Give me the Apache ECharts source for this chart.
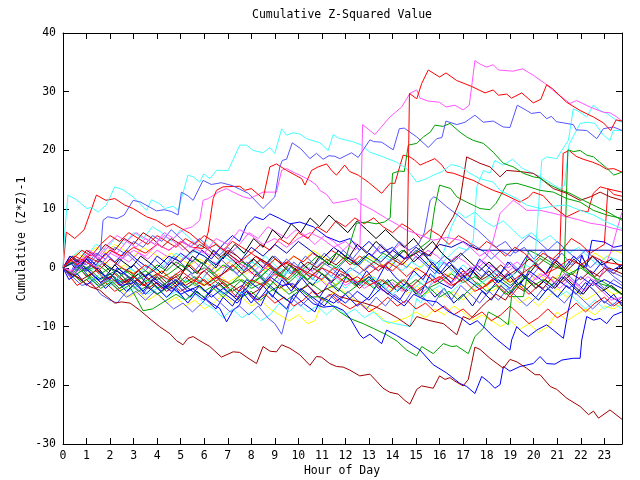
<!DOCTYPE html>
<html><head><meta charset="utf-8">
<script src="https://cdn.jsdelivr.net/npm/echarts@6/dist/echarts.min.js"></script>
<style>html,body{margin:0;padding:0;background:#fff}#c{width:640px;height:480px}</style>
</head><body><div id="c"></div>
<script>
// ---- tick labels ----
const hourTicks = [0,1,2,3,4,5,6,7,8,9,10,11,12,13,14,15,16,17,18,19,20,21,22,23];
const valueTicks = [-30,-20,-10,0,10,20,30,40];
const titleText = 'Cumulative Z-Squared Value';
const xName = 'Hour of Day';
const yName = 'Cumulative (Z*Z)-1';

// ---- series values: [hour, cumulative value] ----
const redTop = [[0,0],[0.5,2],[1,1],[1.5,-0.5],[2,1.5],[2.5,0],[3,-1],[3.5,0.5],[4,-1],[4.5,-2],[5,-0.5],[5.5,-2],[6,-3],[6.5,-1.5],[7,-2.5],[7.5,-4],[8,-2],[8.5,-3],[9,-1],[9.5,-2],[10,0],[10.5,-1],[11,-2],[11.5,0],[12,-1],[12.5,-2.5],[13,-1],[13.5,0.5],[14,-0.5],[14.4,1],[14.62,2],[14.72,29.7],[15.03,28.8],[15.24,31.4],[15.52,33.7],[16.0,32.5],[16.27,33.2],[16.73,31.9],[17.36,30.9],[17.93,29.8],[18.28,30.3],[18.5,29.4],[18.85,29.6],[19.06,28.9],[19.49,29.8],[19.98,28.1],[20.3,28.7],[20.55,31.2],[20.8,30.5],[21.4,28.2],[21.97,26.8],[22.53,25.7],[22.96,24.7],[23.27,23.4],[23.5,25.2],[23.75,25.0]];
const magentaTop = [[0,0],[0.5,-1],[1,1],[1.5,0],[2,2.5],[2.5,1.5],[3,3],[3.5,2],[4,4],[4.5,3],[5,4.5],[5.5,3.5],[6,2.5],[6.5,5],[7,4],[7.5,6.5],[8,5.5],[8.5,4],[9,5],[9.5,3.5],[10,5],[10.5,6],[11,5],[11.5,3.5],[12,4.5],[12.4,3],[12.62,4],[12.73,24.4],[13.25,22.7],[13.89,25.7],[14.39,27.4],[14.74,29.7],[15.03,30.3],[15.17,28.9],[15.52,28.4],[16.0,28.2],[16.27,27.4],[16.65,27.7],[17.0,26.9],[17.26,27.7],[17.36,30.8],[17.5,35.3],[17.72,34.7],[18.0,34.2],[18.28,34.6],[18.5,33.7],[19.13,33.5],[19.53,33.9],[19.98,32.8],[20.48,31.4],[20.98,29.7],[21.54,28.0],[21.82,28.5],[22.39,27.4],[22.96,26.5],[23.24,26.4],[23.53,25.7],[23.75,25.0]];
const slateTop = [[0,0],[0.3,-1.5],[0.6,0.5],[1,-0.5],[1.3,1.5],[1.6,3],[1.7,8.1],[1.9,8.7],[2.3,8.4],[2.6,9.0],[2.98,11.5],[3.3,11.2],[3.7,10.3],[3.97,9.7],[4.3,9.9],[4.6,9.6],[4.89,9.0],[5.03,12.9],[5.3,12.3],[5.53,11.5],[5.95,14.9],[6.3,14.2],[6.73,14.5],[7.2,14.0],[7.87,12.7],[8.5,10.1],[9.0,12.1],[9.21,17.2],[9.32,18.3],[9.5,18.5],[9.74,21.3],[10.1,20.3],[10.49,18.6],[10.77,19.5],[11.05,18.5],[11.3,19.1],[11.55,19.0],[11.76,18.6],[12.26,19.6],[12.54,18.8],[13.04,21.8],[13.2,21.5],[13.54,21.4],[14.03,20.1],[14.29,23.7],[14.5,23.8],[15.03,22.3],[15.52,20.5],[15.88,22.0],[16.1,22.2],[16.27,25.0],[16.73,24.4],[17.08,24.8],[17.5,26.0],[17.86,24.8],[18.28,25.0],[18.7,24.0],[18.99,23.9],[19.3,27.7],[19.7,26.8],[19.9,26.3],[20.27,26.5],[20.55,25.4],[20.75,25.8],[20.96,24.9],[21.68,24.4],[21.8,23.5],[22.25,23.4],[22.68,22.0],[22.96,23.7],[23.38,24.0],[23.75,23.4]];
const cyanTop = [[0,0],[0.07,6],[0.21,12.4],[0.57,11.6],[1.02,10.1],[1.2,10.3],[1.49,9.5],[1.84,10.7],[2.2,13.8],[2.55,13.3],[2.98,12.1],[3.55,9.8],[3.76,11.6],[4.11,10.9],[4.32,10.1],[4.68,10.5],[4.89,9.8],[5.31,15.8],[5.53,15.5],[5.81,14.6],[5.98,16.0],[6.24,15.2],[6.52,16.6],[7.02,16.6],[7.51,20.9],[7.8,20.9],[8.08,20.0],[8.5,19.6],[8.79,20.5],[9.0,19.5],[9.29,23.7],[9.5,22.6],[9.78,23.0],[10.06,22.8],[10.35,22.0],[10.91,21.3],[11.27,20.0],[11.48,22.7],[11.7,22.1],[11.98,21.8],[12.3,21.5],[12.69,20.9],[13.04,19.7],[13.6,18.9],[14.17,18.0],[14.6,16.9],[15.03,14.6],[15.45,15.2],[15.75,15.8],[16.1,16.4],[16.5,17.6],[16.9,17.2],[17.29,16.1],[17.7,15.2],[18.28,14.6],[18.57,13.2],[19.28,11.8],[19.7,10.7],[20.27,10.1],[20.8,10.5],[21.4,10.7],[21.97,9.8],[22.54,9.0],[23.1,7.8],[23.75,6.7]];
const redB = [[0,0],[0.14,6.1],[0.5,5],[0.9,6.5],[1.42,12.4],[1.82,11.5],[2.2,11.8],[2.62,10.7],[2.98,10.1],[3.55,8.7],[3.97,8.1],[4.4,7.0],[4.68,7.5],[5.39,5.9],[5.8,4.5],[6.17,3.3],[6.5,4],[7,2.5],[7.5,1],[8,2.5],[8.5,1],[9,-0.5],[9.5,1],[10,0],[10.5,-1.5],[11,0],[11.5,-1],[12,-2.5],[12.5,-1.5],[13,-3],[13.5,-2],[14,-3.5],[14.5,-2],[15,-4],[15.5,-2.5],[16,-1.5],[16.5,-3],[17,-2],[17.5,-4],[18,-3],[18.5,-1],[19,-2.5],[19.5,-1],[20,0.5],[20.5,-1],[21,0],[21.5,1.5],[22,0.5],[22.5,2],[23,1],[23.75,0.5]];
const redC = [[0,0],[0.3,1.5],[0.6,0.5],[1,2],[1.5,1],[2,3],[2.5,2],[3,3.5],[3.5,2.5],[4,4],[4.5,3],[5,4.5],[5.5,3.5],[5.95,3.3],[6.17,6.1],[6.38,11.8],[6.52,13.2],[6.8,13.8],[7.51,13.9],[7.73,13.2],[8.0,13.5],[8.5,11.8],[8.79,17.2],[9.07,17.7],[9.5,16.6],[10.14,15.2],[10.28,14.1],[10.56,16.6],[10.84,17.2],[11.2,17.7],[11.41,16.6],[11.62,15.8],[11.97,17.5],[12.18,16.4],[12.54,15.8],[12.97,14.6],[13.54,12.7],[13.9,14.4],[14.1,14.4],[14.45,19.2],[14.74,18.9],[14.95,18.3],[15.17,17.5],[15.45,18.0],[15.8,18.6],[16.1,17.5],[16.3,16.3],[16.6,16.1],[17.0,15.5],[17.43,14.9],[17.86,14.0],[18.28,13.2],[18.64,12.7],[19.42,11.2],[19.77,12.0],[19.98,12.9],[20.4,12.3],[20.83,10.4],[21.4,8.7],[21.97,9.8],[22.3,9.5],[22.53,12.7],[22.82,13.8],[23.1,13.5],[23.75,12.9]];
const redD = [[0,0],[0.3,-1],[0.6,0.5],[1,-1.5],[1.4,-0.5],[1.8,-2],[2.2,-1],[2.6,-2.5],[3,-1.5],[3.4,-3],[3.8,-2],[4.2,-0.5],[4.6,-2],[5,-1],[5.4,0.5],[5.8,-1],[6.2,0],[6.6,-1.5],[7,-0.5],[7.4,1],[7.8,0],[8.2,-1.5],[8.6,0],[9,1.5],[9.4,0.5],[9.8,2],[10.2,1],[10.6,2.5],[11,1.5],[11.4,3],[11.8,2],[12.2,0.5],[12.6,2],[13,1],[13.4,-0.5],[13.8,1],[14.2,0],[14.6,-1.5],[15,0],[15.4,-1],[15.8,-2.5],[16.2,-1],[16.6,-2],[17,-0.5],[17.4,-2],[17.8,-3.5],[18.2,-2],[18.6,-3.5],[19,-5],[19.4,-3],[19.8,-4.5],[20.2,-3],[20.6,-1.5],[20.9,1],[21.1,2],[21.25,19.5],[21.5,20],[21.8,19],[22.1,18.5],[22.5,18],[22.8,17.5],[23.1,16.8],[23.4,16.9],[23.75,16.3]];
const redE = [[0,0],[0.4,1.5],[0.8,3],[1.2,2],[1.6,4],[2,5.5],[2.4,4.5],[2.8,6],[3.2,5],[3.6,4],[4,5.5],[4.4,4.5],[4.8,3.5],[5.2,5],[5.6,4],[6,5.5],[6.4,4.5],[6.8,3],[7.2,4.5],[7.6,3.5],[8,2.5],[8.4,4],[8.8,3],[9.2,5],[9.6,4],[10,6],[10.4,5],[10.8,7],[11.2,6],[11.6,8],[12,7],[12.4,8.5],[12.8,7.5],[13.2,8.5],[13.6,7],[14,6],[14.4,7.5],[14.8,6.5],[15.2,5],[15.6,6.5],[16,5.5],[16.4,4],[16.8,5.5],[17.2,4.5],[17.6,3],[18,4.5],[18.4,3.5],[18.8,2],[19.2,3.5],[19.6,2.5],[20,1],[20.4,2.5],[20.8,1.5],[21.2,3],[21.6,5],[22,4],[22.4,2.5],[22.8,3.5],[23.0,4],[23.15,13.5],[23.4,12.5],[23.75,12.2]];
const redF = [[0,0],[0.3,-1.5],[0.6,-3],[1,-2],[1.4,-3.5],[1.8,-2.5],[2.2,-4],[2.6,-3],[3,-1.5],[3.4,-3],[3.8,-2],[4.2,-3.5],[4.6,-2.5],[5,-4],[5.4,-3],[5.8,-1.5],[6.2,-3],[6.6,-2],[7,-3.5],[7.4,-5],[7.8,-4],[8.2,-5.5],[8.6,-4.5],[9,-6],[9.4,-5],[9.8,-6.5],[10.2,-5.5],[10.6,-4],[11,-5.5],[11.4,-4.5],[11.8,-6],[12.2,-7],[12.6,-6],[13,-7.5],[13.4,-6.5],[13.8,-5],[14.2,-6.5],[14.6,-5.5],[15,-7],[15.4,-6],[15.8,-7.5],[16.2,-6.5],[16.6,-8],[17,-7],[17.4,-8.5],[17.8,-7.5],[18.2,-9],[18.6,-8],[19,-6.5],[19.4,-8],[19.8,-9.5],[20.2,-8.5],[20.6,-7],[21,-8.5],[21.4,-7.5],[21.8,-6],[22.2,-7.5],[22.6,-6],[23,-5],[23.4,-6.5],[23.75,-5.5]];
const darkRedBottom = [[0,0],[0.3,-1],[0.57,-1.5],[1.14,-3.2],[1.56,-3.8],[1.9,-5],[2.2,-6.0],[2.48,-5.8],[2.85,-6.0],[3.26,-7.2],[3.76,-8.9],[4.1,-10.0],[4.54,-11.2],[4.82,-12.4],[5.1,-13.1],[5.31,-12.0],[5.53,-11.7],[5.81,-12.4],[6.24,-13.4],[6.73,-15.2],[7.23,-14.3],[7.51,-14.4],[7.8,-15.2],[8.22,-16.3],[8.5,-13.4],[8.8,-14.2],[9.07,-14.3],[9.29,-13.1],[9.64,-13.7],[10.06,-14.8],[10.49,-16.6],[10.77,-15.1],[10.98,-15.2],[11.33,-16.3],[11.62,-16.8],[11.9,-16.9],[12.18,-17.4],[12.61,-18.4],[13.04,-18.1],[13.6,-20.5],[13.89,-21.2],[14.24,-21.5],[14.53,-22.6],[14.74,-23.2],[15.03,-20.7],[15.24,-20.1],[15.73,-20.5],[16.0,-18.4],[16.23,-19.0],[16.44,-18.7],[16.65,-19.3],[17.0,-20.1],[17.22,-19.0],[17.36,-16.3],[17.5,-13.5],[17.72,-13.9],[18.14,-15.4],[18.71,-17.1],[18.99,-15.6],[19.28,-16.0],[19.7,-17.1],[20.06,-18.2],[20.27,-18.2],[20.7,-20.2],[20.98,-20.7],[21.4,-22.2],[21.97,-23.6],[22.33,-25.0],[22.54,-24.4],[22.75,-25.6],[23.24,-24.2],[23.75,-25.8]];
const darkRedB = [[0,0],[0.4,1],[0.8,-0.5],[1.2,0.5],[1.6,-1],[2,-2.5],[2.4,-1.5],[2.8,-3],[3.2,-2],[3.6,-3.5],[4,-2.5],[4.4,-4],[4.8,-3],[5.2,-1.5],[5.6,-3],[6,-2],[6.4,-3.5],[6.8,-2.5],[7.2,-4],[7.6,-3],[8,-4.5],[8.4,-3.5],[8.8,-2],[9.2,-3.5],[9.6,-2.5],[10,-4],[10.4,-3],[10.8,-4.5],[11.2,-3.5],[11.76,-4.9],[12.3,-5.5],[12.8,-6],[13.2,-6.5],[13.75,-7.5],[14.2,-8.5],[14.74,-10.0],[15.03,-8.3],[15.6,-9.0],[16.16,-9.5],[16.73,-11.4],[17.0,-8.3],[17.29,-8.8],[17.79,-6.6],[18.0,-5.8],[18.4,-4.5],[18.8,-5.5],[19.2,-3],[19.6,-4],[20,-2.5],[20.4,-3.5],[20.8,-1.5],[21.2,-2.5],[21.6,-1],[22,-2],[22.4,-0.5],[22.8,-1.5],[23.2,0],[23.75,-1]];
const darkRedC = [[0,0],[0.4,-1],[0.8,-2],[1.2,-1],[1.6,-2.5],[2,-1.5],[2.4,-3],[2.8,-2],[3.2,-0.5],[3.6,-2],[4,-1],[4.4,-2.5],[4.8,-1.5],[5.2,-3],[5.6,-2],[6,-0.5],[6.4,-2],[6.8,-1],[7.2,0.5],[7.6,-1],[8,0],[8.4,1.5],[8.8,0.5],[9.2,-1],[9.6,0.5],[10,-0.5],[10.4,1],[10.8,0],[11.2,1.5],[11.6,0.5],[12,2],[12.4,1],[12.8,-0.5],[13.2,1],[13.6,0],[14,1.5],[14.4,0.5],[14.8,2],[15.2,3],[15.6,2],[16.0,4.7],[16.23,6.4],[16.58,8.7],[16.87,11.5],[17.15,18.9],[17.72,17.8],[18.14,17.2],[18.57,15.5],[18.85,16.6],[19.42,16.4],[19.98,16.1],[20.27,15.3],[20.83,13.5],[21.4,12.7],[21.97,11.5],[22.4,12.1],[22.82,12.9],[23.24,12.1],[23.75,11.5]];
const darkRedD = [[0,0],[0.3,2],[0.6,1],[1,3],[1.4,2],[1.8,4],[2.2,3],[2.6,5],[3,4],[3.4,6],[3.8,5],[4.2,3.5],[4.6,5],[5,4],[5.4,2.5],[5.8,4],[6.2,3],[6.6,1.5],[7,3],[7.4,2],[7.8,0.5],[8.2,2],[8.6,1],[9,-0.5],[9.4,1],[9.8,0],[10.2,-1.5],[10.6,0],[11,-1],[11.4,-2.5],[11.8,-1],[12.2,-2],[12.6,-3.5],[13,-2],[13.4,-3],[13.8,-4.5],[14.2,-3],[14.6,-4],[15,-2.5],[15.4,-1],[15.8,-2.5],[16.2,-1.5],[16.6,-3],[17,-1.5],[17.4,-0.5],[17.8,-2],[18.2,-1],[18.6,0.5],[19,-1],[19.4,0],[19.8,1.5],[20.2,0.5],[20.6,2],[21,1],[21.4,-0.5],[21.8,1],[22.2,0],[22.6,-1.5],[23,0],[23.4,-1],[23.75,0.5]];
const blueA = [[0,0],[0.4,-1.5],[0.8,0.5],[1.2,-1],[1.6,-2.5],[2,-1],[2.5,-3],[3,-2.5],[3.4,-4],[3.8,-2],[4.3,-3.5],[4.8,-2],[5.3,-4],[5.8,-3],[6.3,-5],[6.8,-3.5],[7.3,-5],[7.8,-2],[8.3,-3.5],[8.8,-1.5],[9.3,-3],[9.78,-2.7],[10.2,-4.5],[10.63,-6.1],[11.05,-6.7],[11.5,-6.5],[11.9,-7.2],[12.2,-8.6],[12.61,-11.4],[12.76,-12.0],[13.04,-11.3],[13.54,-12.9],[13.75,-10.6],[14.17,-11.5],[14.74,-12.9],[15.17,-14.0],[15.73,-16.5],[16.3,-17.9],[16.87,-19.7],[17.15,-20.2],[17.5,-21.4],[17.79,-18.5],[18.08,-19.4],[18.35,-20.5],[18.57,-19.9],[18.71,-16.8],[18.99,-17.6],[19.42,-16.8],[19.98,-16.3],[20.27,-15.1],[20.55,-16.3],[20.9,-16.4],[21.2,-15.7],[21.68,-15.4],[21.97,-15.4],[22.04,-12.3],[22.25,-8.3],[22.54,-8.9],[22.82,-8.6],[23.1,-9.5],[23.38,-8.1],[23.75,-7.5]];
const blueB = [[0,0],[0.3,2],[0.7,0.5],[1,1.5],[1.5,-0.5],[2,-2],[2.3,0],[2.8,-1.5],[3.3,-3],[3.6,-1],[4.1,-2.5],[4.6,-4],[5,-2.5],[5.5,-4],[6,-5.5],[6.4,-3],[6.9,-4.5],[7.4,-6],[7.8,-4],[8.3,-5.5],[8.8,-3],[9.2,-4.5],[9.7,-6],[10.1,-3.5],[10.6,-5],[11.1,-6.5],[11.5,-4.5],[12,-6],[12.5,-4],[13,-5.5],[13.5,-3.5],[14,-5],[14.5,-6.5],[14.9,-4.5],[15.4,-5.5],[15.88,-5.8],[16.4,-7.5],[16.9,-8.5],[17.29,-9.7],[17.6,-9],[17.86,-10.0],[18.28,-11.7],[18.99,-14.0],[19.06,-12.3],[19.28,-10.0],[19.5,-10.9],[19.77,-11.7],[20.13,-10.6],[20.55,-9.7],[20.83,-10.6],[21.26,-12.0],[21.47,-7.2],[21.68,-3.8],[22.04,2.2],[22.25,0.2],[22.47,4.7],[23.0,4.4],[23.4,3.5],[23.75,3.8]];
const navyFlat = [[0,0],[0.5,1],[1,-0.5],[1.5,1.5],[2,0],[2.5,-1],[3,0.5],[3.5,-1.5],[4,0],[4.5,2],[5,1],[5.5,3],[6,2],[6.5,0.5],[7,2.5],[7.5,1],[8,3.5],[8.5,2],[9,4],[9.5,2.5],[10,4.5],[10.5,3],[11,1.5],[11.5,3.5],[12,2],[12.5,0.5],[13,2.5],[13.5,1],[14,3],[14.5,1.5],[15,3.5],[15.5,2],[16,4],[16.5,3.5],[17,4.5],[17.4,3.5],[17.8,3.0],[23.75,3.0]];
const blueC = [[0,0],[0.3,-1],[0.7,1],[1.1,-0.5],[1.5,-2],[2,-1],[2.5,-2.5],[3,-1.5],[3.5,-3],[4,-4.5],[4.5,-3],[5,-4.5],[5.5,-3.5],[5.95,-4.9],[6.3,-6],[6.66,-6.9],[6.95,-9.2],[7.23,-7.2],[7.51,-6.3],[7.7,-3.5],[8,-5],[8.4,-6.5],[8.7,-4],[9.1,-5.5],[9.5,-7],[9.8,-4.5],[10.2,-6],[10.7,-7.5],[11,-5],[11.5,-6],[12,-4.5],[12.5,-6.5],[13,-5],[13.4,-2.5],[13.8,-4],[14.3,-5.5],[14.7,-3],[15.2,-4.5],[15.6,-1],[16,-2.5],[16.5,-3.5],[17,-1.5],[17.5,-3],[18,-4.5],[18.5,-2],[19,-3.5],[19.5,-1],[20,-2.5],[20.5,-4],[21,-2],[21.5,-3.5],[22,-1.5],[22.5,-3],[23,-2],[23.75,-3.5]];
const blueD = [[0,0],[0.3,1.5],[0.6,0],[1,2],[1.4,0.5],[1.8,2.5],[2.2,1],[2.7,3],[3.1,1.5],[3.6,0],[4,2],[4.5,0.5],[5,2.5],[5.5,1],[5.9,3],[6.3,1.5],[6.8,4],[7.2,5.5],[7.5,4.5],[7.8,7.3],[8.15,8.7],[8.5,8.2],[8.79,9.2],[9.21,8.4],[9.64,7.5],[10.06,7.8],[10.63,7.0],[11.2,5.3],[11.76,4.4],[12.2,5],[12.6,3],[13,4.5],[13.5,2.5],[14,3.5],[14.5,1.5],[15,2.5],[15.5,0.5],[16,-1],[16.4,1],[16.8,-0.5],[17.2,-2],[17.6,0.5],[18,-1],[18.5,-2.5],[19,-1],[19.4,-3],[19.8,-0.5],[20.3,-2],[20.8,-3.5],[21.2,-1.5],[21.6,-3],[22,-4.5],[22.4,-2],[22.9,-3.5],[23.3,-5],[23.75,-6]];
const blueE = [[0,0],[0.25,-2],[0.6,-1],[1,-3],[1.4,-1.5],[1.8,-3.5],[2.2,-2],[2.7,-4],[3.1,-2.5],[3.5,-4.5],[3.9,-3],[4.4,-5],[4.8,-3.5],[5.3,-6],[5.7,-4],[6.1,-5.5],[6.5,-7],[6.8,-5],[7.2,-6.5],[7.6,-4],[8,-6],[8.5,-3],[8.9,-5],[9.3,-2],[9.7,-4],[10.1,-1.5],[10.5,-3.5],[10.9,-5],[11.3,-2.5],[11.7,-4],[12.1,-1],[12.5,-3],[12.9,-0.5],[13.3,-2.5],[13.7,0.5],[14.1,-1.5],[14.5,-3],[14.9,-0.5],[15.3,-2],[15.7,1],[16.1,-1],[16.5,-2.5],[16.9,0],[17.3,-1.5],[17.7,1.5],[18.1,0],[18.5,-1.5],[18.9,1],[19.3,-0.5],[19.7,2],[20.1,0.5],[20.5,-1],[20.9,1.5],[21.3,0],[21.7,2],[22.1,0.5],[22.5,-1],[22.9,1],[23.3,-0.5],[23.75,0.5]];
const blackA = [[0,0],[0.4,2],[0.8,0.5],[1.2,2.5],[1.6,1],[2,-0.5],[2.4,1.5],[2.9,0],[3.3,2],[3.8,0.5],[4.2,-1],[4.6,1],[5.1,-0.5],[5.5,2],[6,0.5],[6.4,3],[6.8,1.5],[7.3,4],[7.7,2.5],[8.1,5],[8.5,3.5],[8.9,6.5],[9.3,5],[9.7,7.5],[10.1,6],[10.5,8.5],[10.9,7],[11.3,9],[11.7,7.5],[12.1,6],[12.5,8],[12.9,6.5],[13.3,5],[13.7,6.5],[14.1,5],[14.5,3.5],[14.9,5],[15.3,3],[15.7,4.5],[16.1,2.5],[16.5,1],[16.9,2.5],[17.3,1],[17.7,-0.5],[18.1,1],[18.5,-0.5],[18.9,-2],[19.3,-0.5],[19.7,-2],[20.1,-3.5],[20.5,-2],[20.9,-3.5],[21.3,-1.5],[21.7,-3],[22.1,-4.5],[22.5,-2.5],[22.9,-4],[23.3,-3],[23.75,-4.5]];
const blackB = [[0,0],[0.3,-1],[0.7,0.5],[1.1,-1.5],[1.5,0],[1.9,-2],[2.3,-0.5],[2.8,-2.5],[3.2,-1],[3.6,-3],[4,-1.5],[4.5,-3.5],[4.9,-2],[5.3,0.5],[5.7,-1],[6.1,1.5],[6.5,0],[6.9,2.5],[7.3,1],[7.7,-0.5],[8.1,1.5],[8.5,0],[8.9,2],[9.3,0.5],[9.7,-1],[10.1,1],[10.5,-0.5],[10.9,2],[11.3,0.5],[11.7,3],[12.1,1.5],[12.5,4],[12.9,2.5],[13.3,4.5],[13.7,3],[14.1,1.5],[14.5,3],[14.9,1],[15.3,2.5],[15.7,0.5],[16.1,-1],[16.5,0.5],[16.9,-1.5],[17.3,0],[17.7,-2],[18.1,-0.5],[18.5,-2.5],[18.9,-1],[19.3,-3],[19.7,-1.5],[20.1,0.5],[20.5,-1],[20.9,1],[21.3,-0.5],[21.7,1.5],[22.1,0],[22.5,2],[22.9,0.5],[23.3,1.5],[23.75,0]];
const navyB = [[0,0],[0.3,1],[0.6,-0.5],[1,1.5],[1.4,0],[1.8,-1.5],[2.2,0.5],[2.6,-1],[3,-2.5],[3.4,-1],[3.8,-2.5],[4.2,-4],[4.6,-2],[5,-3.5],[5.4,-5],[5.8,-3],[6.2,-4.5],[6.6,-2.5],[7,-4],[7.4,-5.5],[7.8,-3.5],[8.2,-1],[8.6,-2.5],[9,-0.5],[9.4,-2],[9.8,-3.5],[10.2,-1.5],[10.6,-3],[11,-1],[11.4,-2.5],[11.8,0],[12.2,-1.5],[12.6,-3],[13,-1.5],[13.4,-3.5],[13.8,-2],[14.2,-4],[14.6,-2.5],[15,-4.5],[15.4,-3],[15.8,-5],[16.2,-3.5],[16.6,-6],[17,-4.5],[17.4,-6.5],[17.8,-4],[18.2,-5.5],[18.6,-3],[19,-4.5],[19.4,-2.5],[19.8,-4],[20.2,-5.5],[20.6,-3.5],[21,-5],[21.4,-3],[21.8,-4.5],[22.2,-2.5],[22.6,-4],[23,-6],[23.4,-4.5],[23.75,-6.5]];
const slateB = [[0,0],[0.3,-1],[0.7,0.5],[1.1,-1.5],[1.5,-3],[1.9,-2],[2.3,-3.5],[2.7,-5],[3.1,-4],[3.5,-5.5],[3.9,-4],[4.3,-5.5],[4.7,-7],[5.1,-6],[5.5,-7.5],[5.9,-6],[6.3,-4.5],[6.7,-6],[7.1,-7.5],[7.5,-6.5],[7.9,-8],[8.3,-6.5],[8.7,-8.5],[9.0,-9.5],[9.29,-11.3],[9.5,-8],[9.7,-5],[10.1,-6.5],[10.5,-5],[10.9,-6.5],[11.3,-4.5],[11.7,-6],[12.1,-4],[12.5,-5.5],[12.9,-7],[13.3,-5],[13.7,-6.5],[14.1,-4.5],[14.5,-6],[14.9,-3.5],[15.3,-5],[15.7,-6.5],[16.1,-4],[16.5,-5.5],[16.9,-3],[17.3,-4.5],[17.7,-6],[18.1,-4],[18.5,-5.5],[18.9,-3.5],[19.3,-5],[19.7,-6.5],[20.1,-5],[20.5,-3],[20.9,-4.5],[21.3,-6],[21.7,-4],[22.1,-5.5],[22.5,-7],[22.9,-5.5],[23.3,-6.5],[23.75,-5]];
const slateC = [[0,0],[0.4,-1.5],[0.8,-3],[1.2,-2.5],[1.6,-4.5],[2.0,-5.5],[2.3,-6],[2.6,-4.5],[3,-3],[3.4,-4.5],[3.8,-2],[4.2,-3.5],[4.6,-1.5],[5,-3],[5.4,-1],[5.8,-2.5],[6.2,-0.5],[6.6,-2],[7,0.5],[7.4,-1],[7.8,1],[8.2,-0.5],[8.6,-2],[9,0],[9.4,-1.5],[9.8,1],[10.2,-0.5],[10.6,-2],[11,0],[11.4,-1.5],[11.8,0.5],[12.2,2],[12.6,0.5],[13,2.5],[13.4,1],[13.8,-0.5],[14.2,1.5],[14.6,0],[15,2],[15.4,0.5],[15.8,-1],[16.2,1],[16.6,-0.5],[17,-2],[17.4,0],[17.8,-1.5],[18.2,0.5],[18.6,-1],[19,1],[19.4,-0.5],[19.8,-2],[20.2,0],[20.6,-1.5],[21,-3],[21.4,-1],[21.8,-2.5],[22.2,-4],[22.6,-2],[23,-3.5],[23.4,-2],[23.75,-3]];
const slateD = [[0,0],[0.3,1],[0.7,-0.5],[1.1,1.5],[1.5,0],[1.9,2],[2.3,0.5],[2.7,2.5],[3.1,1],[3.5,-0.5],[3.9,1.5],[4.3,0],[4.7,2],[5.1,0.5],[5.5,-1],[5.9,1],[6.3,-0.5],[6.7,1.5],[7.1,0],[7.5,-1.5],[7.9,0.5],[8.3,-1],[8.7,1],[9.1,-0.5],[9.5,1.5],[9.9,0],[10.3,2],[10.7,0.5],[11.1,2.5],[11.5,1],[11.9,3],[12.3,1.5],[12.7,3.5],[13.1,2],[13.5,4],[13.9,2.5],[14.3,4.5],[14.7,3],[15.1,4],[15.35,6],[15.6,11.5],[15.75,12.1],[15.9,11.8],[16.3,10.4],[16.8,8.9],[17.2,7.5],[17.6,6.5],[18,5],[18.4,3.5],[18.8,4.5],[19.2,2.5],[19.6,3.5],[20,1.5],[20.4,3],[20.8,1],[21.2,2.5],[21.6,0.5],[22,2],[22.4,0],[22.8,1.5],[23.2,-0.5],[23.75,-1.5]];
const slateE = [[0,0],[0.3,-1],[0.6,1.5],[1,0.5],[1.4,2.5],[1.8,1.5],[2.2,3.5],[2.6,2.5],[3,4.5],[3.4,3.5],[3.8,5.5],[4.2,4.5],[4.6,6.5],[5,5],[5.4,3.5],[5.8,5],[6.2,3.5],[6.6,2],[7,3.5],[7.4,2],[7.8,0.5],[8.2,2],[8.6,0.5],[9,2],[9.4,0.5],[9.8,-1],[10.2,0.5],[10.6,-0.5],[11,1],[11.4,0],[11.8,-1.5],[12.2,0],[12.6,-1],[13,0.5],[13.4,-0.5],[13.8,1],[14.2,2.5],[14.6,1.5],[15,3],[15.4,2],[15.8,0.5],[16.2,2],[16.6,1],[17,2.5],[17.4,4],[17.8,3],[18.2,1.5],[18.6,3],[19,2],[19.4,4],[19.8,5.5],[20.2,4.5],[20.6,3],[21,4.5],[21.4,3],[21.8,1.5],[22.2,3],[22.6,1.5],[23,0],[23.4,-1.5],[23.75,-2.5]];
const cyanB = [[0,0],[0.4,1],[0.8,-0.5],[1.2,-2],[1.6,-1],[2,-2.5],[2.4,-1.5],[2.8,0],[3.2,-1],[3.6,0.5],[4,-0.5],[4.4,1],[4.8,2.5],[5.2,1.5],[5.6,3],[6,2],[6.4,0.5],[6.8,2],[7.2,1],[7.6,-0.5],[8,1],[8.4,0],[8.8,-1.5],[9.2,0],[9.6,-1],[10,0.5],[10.4,-1],[10.8,-2.5],[11.2,-1],[11.6,-2],[12,-3.5],[12.4,-2],[12.8,-3],[13.2,-1.5],[13.6,-3],[14,-4.5],[14.4,-3],[14.8,-4],[15.2,-2.5],[15.6,-4],[16,-3],[16.4,-4.5],[16.8,-3],[17.2,-1.5],[17.6,-3],[18,-2],[18.4,-0.5],[18.8,-2],[19.2,-1],[19.6,0.5],[19.9,0],[20.05,1.3],[20.34,18.3],[20.55,18.9],[20.98,18.6],[21.19,20.0],[21.47,21.7],[21.54,23.4],[21.68,27.1],[21.97,26.5],[22.25,25.7],[22.53,27.7],[22.82,26.8],[23.1,26.3],[23.53,25.1],[23.75,24.8]];
const cyanC = [[0,0],[0.4,-1],[0.8,0.5],[1.2,-0.5],[1.6,1],[2,0],[2.4,-1.5],[2.8,0],[3.2,-1],[3.6,-2.5],[4,-1],[4.4,-2],[4.8,-3.5],[5.2,-2],[5.6,-3],[6,-1.5],[6.4,-3],[6.8,-4.5],[7.2,-3],[7.6,-4.5],[8,-3],[8.4,-1.5],[8.8,-3],[9.2,-2],[9.6,-0.5],[10,-2],[10.4,-1],[10.8,-2.5],[11.2,-1],[11.6,0.5],[12,-1],[12.4,0],[12.8,1.5],[13.2,0.5],[13.6,2],[14,1],[14.4,-0.5],[14.8,1],[15.2,0],[15.6,1.5],[16,0.5],[16.4,2],[16.8,3.5],[17.2,3],[17.43,4.7],[17.58,13.8],[17.86,16.6],[18.14,16.1],[18.35,18.3],[18.7,17.5],[19.1,18.5],[19.5,17],[19.9,16.2],[20.3,15.5],[20.7,14.5],[21.1,13.5],[21.3,14],[21.5,21],[21.97,24.6],[22.3,24.8],[22.6,24.6],[22.96,22.6],[23.24,21.7],[23.38,23.4],[23.75,23.4]];
const cyanD = [[0,0],[0.4,-1.5],[0.8,-0.5],[1.2,-2.5],[1.6,-1.5],[2,-3],[2.4,-2],[2.8,-4],[3.2,-3],[3.6,-4.5],[4,-3.5],[4.4,-5],[4.8,-4],[5.2,-5.5],[5.6,-4.5],[6,-6],[6.4,-7],[6.8,-8.5],[7.2,-7],[7.6,-8.5],[8,-7.5],[8.4,-9],[8.8,-8],[9.2,-6],[9.6,-7.5],[10,-6],[10.4,-7.5],[10.8,-6.5],[11.2,-8],[11.6,-6.5],[12,-8],[12.4,-7],[12.8,-8.5],[13.2,-7.5],[13.6,-9],[14.1,-9.5],[14.74,-10.0],[15.03,-5.2],[15.2,-6],[15.45,-4.1],[15.88,-0.7],[16.0,1.0],[16.3,0.5],[16.6,-1],[17,0.5],[17.4,-1],[17.8,-2.5],[18.2,-1],[18.6,-2.5],[19,-4],[19.4,-2.5],[19.8,-4],[20.2,-5.5],[20.6,-3.5],[21,-5],[21.4,-4],[21.8,-5.5],[22.2,-7],[22.6,-5.5],[23,-7],[23.4,-6],[23.75,-7]];
const cyanE = [[0,0],[0.3,1.5],[0.7,3],[1,2],[1.4,4],[1.8,3],[2.2,5],[2.6,4],[3,6],[3.4,5],[3.8,7],[4.2,6],[4.6,4.5],[5,6.5],[5.4,5],[5.8,3.5],[6.2,5],[6.6,3.5],[7,2],[7.4,3.5],[7.8,2],[8.2,0.5],[8.6,2],[9,0.5],[9.4,-1],[9.8,0.5],[10.2,-1],[10.6,0.5],[11,-1],[11.4,-2.5],[11.8,-1],[12.2,-2.5],[12.6,-1],[13,-2.5],[13.4,-4],[13.8,-2.5],[14.2,-4],[14.6,-2.5],[15,-1],[15.4,-2.5],[15.8,-1],[16.2,3],[16.5,7],[16.8,9.5],[17.1,8.5],[17.5,9.5],[17.9,8],[18.3,7],[18.7,8],[19.1,6.5],[19.5,5],[19.9,6],[20.3,4.5],[20.7,5.5],[21.1,4],[21.5,2.5],[21.9,3.5],[22.3,2],[22.7,0.5],[23.1,2],[23.75,1]];
const yellowA = [[0,0],[0.4,-1],[0.8,0.5],[1.2,-1.5],[1.6,-3],[2,-2],[2.4,-3.5],[2.8,-5],[3.2,-4],[3.6,-5.5],[4,-4.5],[4.4,-6],[4.8,-5],[5.2,-6.5],[5.6,-5.5],[6,-7],[6.4,-6],[6.8,-4.5],[7.2,-6],[7.6,-5],[8,-6.5],[8.4,-5.5],[8.8,-7],[9.2,-8],[9.6,-9],[10,-8],[10.4,-9.5],[10.7,-9],[11,-6],[11.4,-4.5],[11.8,-3.5],[12.2,-5],[12.6,-6],[13,-6.9],[13.4,-8],[13.8,-9.5],[14.2,-9],[14.6,-8.5],[15,-7.5],[15.4,-8.5],[15.8,-7],[16.2,-8],[16.6,-6.5],[17,-7.5],[17.4,-9],[17.8,-8],[18.2,-9],[18.6,-10],[19,-9],[19.4,-10.5],[19.8,-9.5],[20.2,-11],[20.6,-10],[21,-7.5],[21.4,-9],[21.8,-8],[22.2,-7],[22.6,-8],[23,-6.5],[23.4,-7],[23.75,-6]];
const yellowB = [[0,0],[0.3,1],[0.6,2.5],[1,1.5],[1.4,0],[1.8,1],[2.2,-0.5],[2.6,0.5],[3,-1],[3.4,0],[3.8,-1.5],[4.2,-0.5],[4.6,-2],[5,-3],[5.4,-2],[5.8,-3.5],[6.2,-2],[6.6,-1],[7,-2.5],[7.4,-1.5],[7.8,-3],[8.2,-2],[8.6,-3.5],[9,-2.5],[9.4,-4],[9.8,-3],[10.2,-1.5],[10.6,-3],[11,-2],[11.4,-3.5],[11.8,-2],[12.2,-1],[12.6,-2.5],[13,-1],[13.4,-2.5],[13.8,-4],[14.2,-3],[14.6,-4.5],[15,-3],[15.4,-4.5],[15.8,-3.5],[16.2,-5],[16.6,-4],[17,-5.5],[17.4,-4],[17.8,-2.5],[18.2,-4],[18.6,-3],[19,-4.5],[19.4,-6],[19.8,-5],[20.2,-6.5],[20.6,-5],[21,-3.5],[21.4,-5],[21.8,-4],[22.2,-5.5],[22.6,-4.5],[23,-3.5],[23.4,-4.5],[23.75,-4]];
const yellowC = [[0,0],[0.3,1.5],[0.6,0.5],[1,2],[1.4,3.5],[1.8,2.5],[2.2,4],[2.6,3],[3,2],[3.4,3.5],[3.8,2.5],[4.2,1.5],[4.6,2.5],[5,1.5],[5.4,0.5],[5.8,1.5],[6.2,0.5],[6.6,-0.5],[7,1],[7.4,0],[7.8,-1],[8.2,0.5],[8.6,-0.5],[9,1.5],[9.4,0.5],[9.8,2],[10.2,1],[10.6,3],[11,2],[11.4,1],[11.8,2.5],[12.2,1.5],[12.6,0.5],[13,2],[13.4,1],[13.8,0],[14.2,1.5],[14.6,0.5],[15,-0.5],[15.4,1],[15.8,0],[16.2,-1.5],[16.6,-0.5],[17,-2],[17.4,-1],[17.8,-2.5],[18.2,-1.5],[18.6,-3],[19,-2],[19.4,-3.5],[19.8,-2.5],[20.2,-1],[20.6,-2.5],[21,-1.5],[21.4,0],[21.8,-1],[22.2,1],[22.6,2.5],[23,1.5],[23.4,3],[23.75,2.5]];
const greenA = [[0,0],[0.4,-1],[0.8,0.5],[1.2,-0.5],[1.6,-2],[2,-1],[2.4,-2.5],[2.8,-1.5],[3.2,-3],[3.6,-2],[4,-3.5],[4.4,-2.5],[4.8,-1],[5.2,-2.5],[5.6,-1.5],[6,-3],[6.4,-2],[6.8,-3.5],[7.2,-2.5],[7.6,-1],[8,-2.5],[8.4,-1.5],[8.8,0],[9.2,-1.5],[9.6,0.5],[10,-1],[10.4,0.5],[10.8,2],[11.2,1],[11.6,2.5],[12,1.5],[12.33,5.9],[12.47,7.6],[12.9,7.8],[13.3,7.5],[13.65,7.8],[13.9,8.5],[14.0,16.1],[14.3,16.5],[14.5,16.4],[14.67,20.9],[15.03,21.2],[15.31,22.3],[15.6,23.1],[15.8,24.3],[16.15,24.1],[16.44,24.6],[16.87,23.1],[17.15,22.3],[17.43,21.7],[17.86,21.2],[18.28,19.7],[18.71,17.8],[19.13,17.2],[19.56,16.1],[19.98,15.5],[20.27,15.3],[20.7,14.1],[21.12,13.3],[21.54,12.7],[22.11,11.5],[22.68,10.4],[23.24,9.3],[23.75,8.1]];
const greenB = [[0,0],[0.4,1],[0.8,-0.5],[1.2,0.5],[1.6,-1],[2,0],[2.4,-1.5],[2.8,-0.5],[3.2,-2],[3.6,-1],[4,0.5],[4.4,-0.5],[4.8,1],[5.2,0],[5.6,1.5],[6,0.5],[6.4,-1],[6.8,0.5],[7.2,-0.5],[7.6,1],[8,0],[8.4,-1.5],[8.8,0],[9.2,-1],[9.6,-2.5],[10,-1],[10.4,-2],[10.8,-0.5],[11.2,-1.5],[11.6,-3],[12,-1.5],[12.4,-3],[12.8,-2],[13.2,-3.5],[13.6,-2],[14,-3.5],[14.4,-2],[14.8,-3.5],[15.2,-5],[15.6,-3.5],[16,-5],[16.4,-4],[16.8,-5.5],[17.2,-4],[17.6,-2.5],[18,-4],[18.4,-3],[18.8,-4.5],[19.2,-3.5],[19.6,-1.5],[20,-3],[20.4,-2],[20.8,-3],[21.1,-1.5],[21.3,0.5],[21.45,20.1],[21.7,19.8],[21.97,20.0],[22.25,19.2],[22.54,18.9],[22.8,18.0],[23.1,17.0],[23.4,15.8],[23.75,16.3]];
const greenC = [[0,0],[0.4,-1.5],[0.8,-0.5],[1.2,-2],[1.6,-3.5],[2,-2.5],[2.4,-4],[2.8,-3],[3.1,-5],[3.4,-7.3],[3.8,-7],[4.2,-6],[4.8,-4.5],[5.2,-5.5],[5.6,-4],[6,-5],[6.4,-3.5],[6.8,-5],[7.2,-3.5],[7.6,-2],[8,-3],[8.4,-1.5],[8.8,-3],[9.2,-1],[9.6,-2],[10,-0.5],[10.4,-2],[10.8,-0.5],[11.2,1],[11.6,0],[12,1.5],[12.4,0.5],[12.8,2],[13.2,1],[13.6,2.5],[14,1.5],[14.4,3],[14.8,2],[15.2,3.5],[15.59,4.7],[15.8,10.4],[16.0,14.1],[16.47,13.5],[16.73,12.1],[17.15,11.2],[17.72,10.1],[18.14,9.9],[18.4,11],[18.6,12.4],[18.85,14.2],[19.28,14.4],[19.8,13.8],[20.27,13.2],[20.83,12.9],[21.4,11.8],[21.97,11.2],[22.53,9.8],[23.1,9.0],[23.75,8.4]];
const greenD = [[0,0],[0.5,1],[1,-0.5],[1.5,0.5],[2,-1],[2.5,0],[3,-1.5],[3.5,-0.5],[4,-2],[4.5,-1],[5,0.5],[5.5,-1],[6,0],[6.5,-1.5],[7,-3],[7.5,-2],[8,-3.5],[8.5,-2.5],[9,-4],[9.5,-5.5],[10,-4],[10.5,-2.5],[11,-4],[11.5,-3],[12,-4.5],[12.5,-3],[13,-1.5],[13.5,-3],[14,-2],[14.5,-3.5],[15,-2],[15.5,-3.5],[16,-2.5],[16.5,-1],[17,-2.5],[17.5,-1.5],[18,-3],[18.5,-1.5],[19,-3],[19.5,-1.5],[19.8,3],[20.3,2],[20.7,1],[21.1,0],[21.5,-1],[22,0],[22.5,-1.5],[23,-2.5],[23.4,-3.5],[23.75,-4.5]];
const greenE = [[0,0],[0.4,-1],[0.8,-2.5],[1.2,-1.5],[1.6,-3],[2,-2],[2.4,-3.5],[2.8,-2.5],[3.2,-4],[3.6,-3],[4,-4.5],[4.4,-3.5],[4.8,-2],[5.2,-3.5],[5.6,-2.5],[6,-4],[6.4,-3],[6.8,-4.5],[7.2,-3.5],[7.6,-5],[8,-4],[8.4,-5.5],[8.8,-4],[9.2,-3],[9.6,-4.5],[10,-3.5],[10.5,-5],[10.91,-4.9],[11.3,-6],[11.76,-7.5],[12.18,-8.6],[12.75,-9.5],[13.18,-10.3],[13.75,-11.4],[14.2,-12.5],[14.6,-14.0],[15.03,-15.0],[15.24,-13.4],[15.73,-14.6],[16.16,-12.9],[16.51,-13.4],[16.73,-13.3],[17.22,-14.6],[17.5,-11.7],[17.86,-10.3],[18.07,-7.5],[18.57,-8.6],[18.92,-9.7],[19.06,-4.9],[19.56,-4.9],[19.77,-0.4],[20.27,1.6],[20.83,0.2],[21.12,-0.1],[21.4,-1.3],[21.68,-1.0],[21.97,0.4],[22.4,-1.0],[22.82,-2.7],[23.24,-3.2],[23.75,-4.6]];
const magentaB = [[0,0],[0.3,1.5],[0.7,0.5],[1.1,2.5],[1.5,1.5],[1.9,3.5],[2.3,2.5],[2.7,4.5],[3.1,3.5],[3.5,5],[3.9,4],[4.3,6],[4.7,5],[5.1,6.5],[5.5,7],[5.81,8.1],[5.95,11.5],[6.17,11.8],[6.6,12.9],[6.94,13.5],[7.23,12.9],[7.66,12.1],[7.94,11.8],[8.5,12.9],[9.07,12.9],[9.29,16.6],[9.5,16.9],[9.78,16.3],[10.06,15.8],[10.49,14.9],[10.77,14.1],[10.91,13.2],[11.2,12.5],[11.48,11.0],[11.9,11.3],[12.47,11.8],[12.61,11.0],[13.18,9.8],[13.75,8.4],[14.24,7.3],[14.6,6.4],[15.17,5.6],[15.73,4.7],[16.3,5.2],[16.87,4.7],[17.3,3.5],[17.7,2],[18.1,3],[18.5,1.5],[18.9,0],[19.3,1],[19.7,-0.5],[20.1,-2],[20.5,-1],[20.9,-2.5],[21.3,-1],[21.7,-2.5],[22.1,-4],[22.5,-2.5],[22.9,-4],[23.3,-5.5],[23.75,-5]];
const magentaC = [[0,0],[0.4,-0.5],[0.8,1],[1.2,2.5],[1.6,1.5],[2,3],[2.4,2],[2.8,1],[3.2,2.5],[3.6,1.5],[4,3],[4.4,2],[4.8,0.5],[5.2,2],[5.6,1],[6,-0.5],[6.4,1],[6.8,0],[7.2,1.5],[7.6,0.5],[8,-1],[8.4,0.5],[8.8,-0.5],[9.2,-2],[9.6,-0.5],[10,-1.5],[10.4,0],[10.8,-1.5],[11.2,-3],[11.6,-1.5],[12,-3],[12.4,-2],[12.8,-3.5],[13.2,-2.5],[13.6,-4],[14,-2.5],[14.4,-4],[14.8,-3],[15.2,-4.5],[15.6,-3],[16,-1.5],[16.4,-3],[16.8,-1.5],[17.2,-0.5],[17.6,0.5],[18,2],[18.28,4.7],[18.57,9.3],[19.13,11.5],[19.42,10.7],[19.7,9.8],[20.27,9.8],[20.83,9.3],[21.4,8.7],[21.9,8.2],[22.4,7.6],[22.9,7.3],[23.3,6.8],[23.75,6.4]];
const magentaD = [[0,0],[0.3,2],[0.7,1],[1.1,3],[1.5,2],[1.9,4],[2.3,5.5],[2.7,4.5],[3.1,6],[3.5,5],[3.9,4],[4.3,5.5],[4.7,4.5],[5.1,3],[5.5,4.5],[5.9,3],[6.3,2],[6.7,3.5],[7.1,2.5],[7.5,4],[7.9,6],[8.3,5],[8.7,7],[9.1,6],[9.5,5],[9.9,6.5],[10.3,5.5],[10.7,4],[11.1,5.5],[11.5,4.5],[11.9,3],[12.3,4.5],[12.7,3.5],[13.1,2],[13.5,3.5],[13.9,2.5],[14.3,4],[14.7,3],[15.1,1.5],[15.5,3],[15.9,2],[16.3,0.5],[16.7,2],[17.1,1],[17.5,-0.5],[17.9,1],[18.3,0],[18.7,-1.5],[19.1,0],[19.5,-1],[19.9,-2.5],[20.3,-1],[20.7,-2],[21.1,-3.5],[21.5,-2],[21.9,-3],[22.3,-1.5],[22.7,-2.5],[23,0],[23.3,3],[23.5,6],[23.75,9.5]];

// name, values, colour (drawing order: first is underneath)
const RED = '#ff0000', GREEN = '#00a000', BLUE = '#0000ff', MAGENTA = '#ff55ff', CYAN = '#44ffff',
      DARKRED = '#a00000', YELLOW = '#ffff00', SLATE = '#5555ff', BLACK = '#000000', NAVY = '#0000b0';
const seriesList = [
  ['yellowA', yellowA, YELLOW], ['yellowB', yellowB, YELLOW], ['yellowC', yellowC, YELLOW],
  ['cyanE', cyanE, CYAN], ['cyanD', cyanD, CYAN], ['slateC', slateC, SLATE], ['slateE', slateE, SLATE],
  ['magentaD', magentaD, MAGENTA], ['greenD', greenD, GREEN], ['darkRedD', darkRedD, DARKRED],
  ['redF', redF, RED], ['blackB', blackB, BLACK], ['navyB', navyB, NAVY], ['blueE', blueE, BLUE],
  ['blueC', blueC, BLUE], ['slateB', slateB, SLATE], ['redD', redD, RED], ['redE', redE, RED],
  ['blackA', blackA, BLACK], ['blueD', blueD, BLUE], ['darkRedB', darkRedB, DARKRED],
  ['greenE', greenE, GREEN], ['magentaC', magentaC, MAGENTA], ['slateD', slateD, SLATE],
  ['cyanC', cyanC, CYAN], ['cyanB', cyanB, CYAN], ['greenC', greenC, GREEN], ['greenB', greenB, GREEN],
  ['darkRedC', darkRedC, DARKRED], ['navyFlat', navyFlat, NAVY], ['blueB', blueB, BLUE],
  ['blueA', blueA, BLUE], ['magentaB', magentaB, MAGENTA], ['redB', redB, RED], ['redC', redC, RED],
  ['greenA', greenA, GREEN], ['cyanTop', cyanTop, CYAN], ['slateTop', slateTop, SLATE],
  ['magentaTop', magentaTop, MAGENTA], ['redTop', redTop, RED], ['darkRedBottom', darkRedBottom, DARKRED]
];

const FONT = '"DejaVu Sans Mono", "Liberation Mono", monospace';
const FS = 11.5;
const axisLineStyle = {color: '#000', width: 1};

const chart = echarts.init(document.getElementById('c'), null, {renderer: 'canvas'});
chart.setOption({
  animation: false,
  backgroundColor: '#ffffff',
  grid: {left: 63, right: 18, top: 33, bottom: 36, containLabel: false},
  xAxis: [
    {type: 'value', min: 0, max: 23.75, interval: 1, position: 'bottom',
     axisLine: {show: true, onZero: false, lineStyle: axisLineStyle},
     axisTick: {show: true, inside: true, length: 6, customValues: hourTicks, lineStyle: axisLineStyle},
     axisLabel: {show: true, customValues: hourTicks, color: '#000', fontFamily: FONT, fontSize: FS, margin: 6},
     splitLine: {show: false}},
    {type: 'value', min: 0, max: 23.75, interval: 1, position: 'top',
     axisLine: {show: true, onZero: false, lineStyle: axisLineStyle},
     axisTick: {show: true, inside: true, length: 6, customValues: hourTicks, lineStyle: axisLineStyle},
     axisLabel: {show: false}, splitLine: {show: false}}
  ],
  yAxis: [
    {type: 'value', min: -30, max: 40, interval: 10, position: 'left',
     axisLine: {show: true, onZero: false, lineStyle: axisLineStyle},
     axisTick: {show: true, inside: true, length: 6, customValues: valueTicks, lineStyle: axisLineStyle},
     axisLabel: {show: true, customValues: valueTicks, color: '#000', fontFamily: FONT, fontSize: FS, margin: 7},
     splitLine: {show: false}},
    {type: 'value', min: -30, max: 40, interval: 10, position: 'right',
     axisLine: {show: true, onZero: false, lineStyle: axisLineStyle},
     axisTick: {show: true, inside: true, length: 6, customValues: valueTicks, lineStyle: axisLineStyle},
     axisLabel: {show: false}, splitLine: {show: false}}
  ],
  graphic: [
    {type: 'text', x: 342, y: 15, style: {text: titleText, fill: '#000', font: FS + 'px ' + FONT, textAlign: 'center', textVerticalAlign: 'middle'}},
    {type: 'text', x: 342, y: 471, style: {text: xName, fill: '#000', font: FS + 'px ' + FONT, textAlign: 'center', textVerticalAlign: 'middle'}},
    {type: 'text', x: 22, y: 239, rotation: Math.PI / 2, style: {text: yName, fill: '#000', font: FS + 'px ' + FONT, textAlign: 'center', textVerticalAlign: 'middle'}}
  ],
  series: seriesList.map(([name, values, color]) => ({
    name: name, type: 'line', xAxisIndex: 0, yAxisIndex: 0, data: values,
    showSymbol: false, symbol: 'none', smooth: false, clip: true,
    lineStyle: {color: color, width: 1}, itemStyle: {color: color},
    emphasis: {disabled: true}
  }))
});
</script>
</body></html>
